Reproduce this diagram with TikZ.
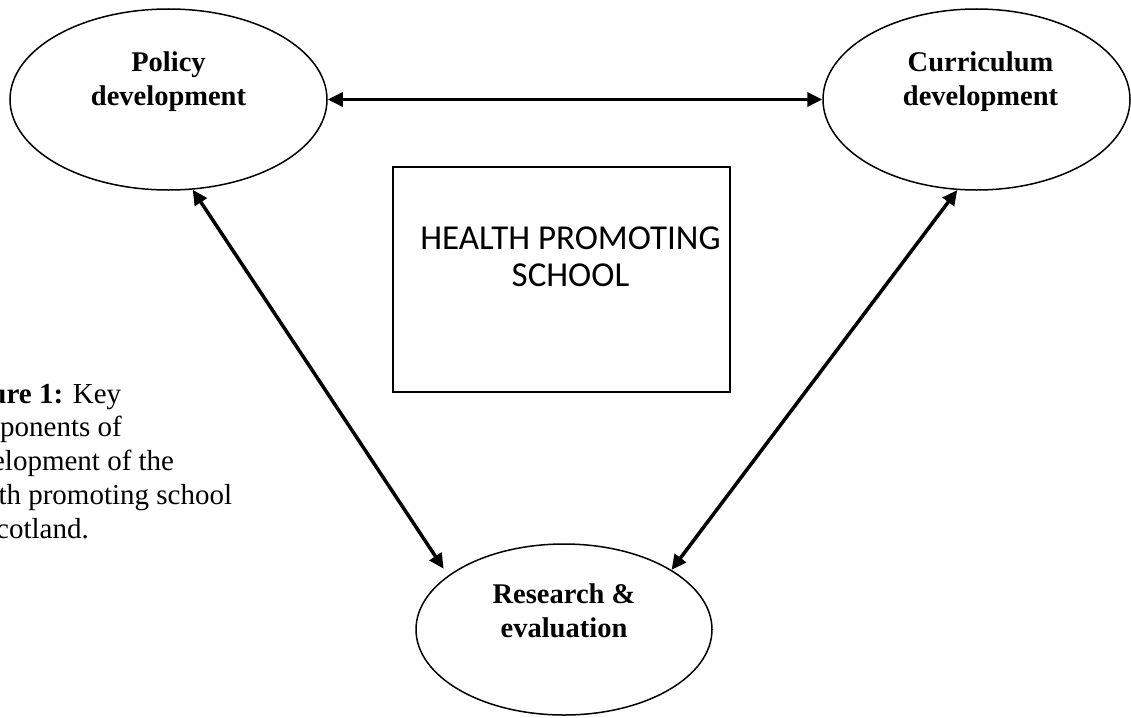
\documentclass[tikz,border=0pt]{standalone}
\usepackage{fontspec}
\setmainfont{Liberation Serif}
\newfontfamily\boxfont{Carlito}
\usetikzlibrary{arrows.meta,shapes.geometric}

\begin{document}
\begin{tikzpicture}[>={Triangle[width=14pt,length=15pt]}, blob/.style={ellipse, draw, line width=1.5pt, inner sep=0pt}, lbl/.style={align=center, font=\fontsize{28.5}{34}\selectfont\bfseries}, link/.style={<->, line width=3.5pt}]
		\useasboundingbox (0pt, 0pt) rectangle (1131pt, -717pt);
		\clip (0pt, 0pt) rectangle (1131pt, -717pt);
		\draw (168.5pt, -99.5pt)node[blob, minimum width=317pt, minimum height=181pt](policy){};
		\draw (976.5pt, -99.5pt)node[blob, minimum width=307pt, minimum height=181pt](curric){};
		\draw (564.0pt, -629.5pt)node[blob, minimum width=296pt, minimum height=171pt](research){};
		\draw (561.5pt, -279.5pt)node[draw, line width=1.5pt, minimum width=337pt, minimum height=225pt, inner sep=0pt](hps){};
		\node[lbl] (policytxt) at ([yshift=18pt]policy.center) {Policy\\development};
		\node[lbl] (currictxt) at ([xshift=4pt, yshift=18pt]curric.center) {Curriculum\\development};
		\node[lbl] (researchtxt) at ([yshift=19pt]research.center) {Research \&\\evaluation};
		\node[align=center, font=\boxfont\fontsize{35}{37}\selectfont] (hpstxt) at ([xshift=9pt, yshift=23pt]hps.center) {HEALTH PROMOTING\\SCHOOL};
		\node[anchor=base west, align=left, inner sep=0pt, font=\fontsize{29}{33.7}\selectfont] (caption) at (-50pt, -538pt) {\textbf{Figure 1:} Key\\components of\\development of the\\health promoting school\\in Scotland.};
		\path[link] (policy) edge (curric);
		\path[link] (policy.-75) edge[shorten >=8pt] (research.155);
		\path[link] (curric.-102) edge (research.29);
\end{tikzpicture}
\end{document}
